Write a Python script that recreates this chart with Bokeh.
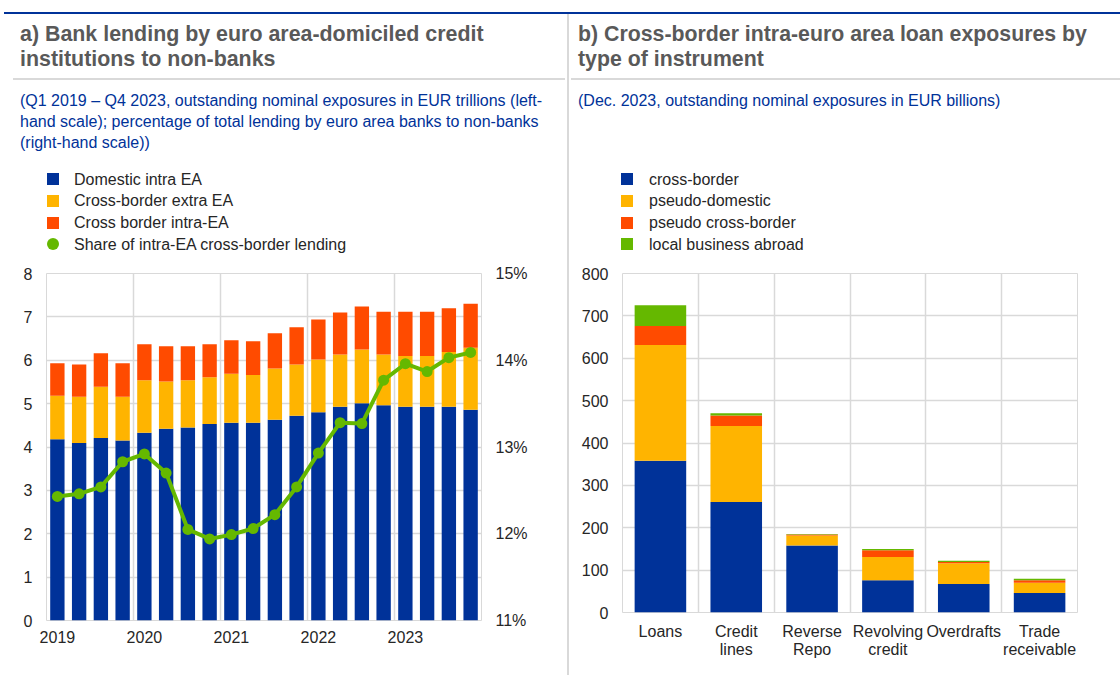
from bokeh.plotting import figure
from bokeh.models import (ColumnDataSource, Range1d, LinearAxis, FixedTicker, Div,
                          PrintfTickFormatter)
from bokeh.layouts import row, column
from bokeh.embed import file_html
from bokeh.resources import INLINE

FONT = "Liberation Sans"
BLUE = "#003299"; YELLOW = "#FFB400"; ORANGE = "#FF4B00"; GREEN = "#65B800"
GRID = "#d9d9d9"; TXT = "#262626"; TITLE = "#595959"

# ---------------- texts ----------------
title_a = ["a) Bank lending by euro area-domiciled credit", "institutions to non-banks"]
sub_a = ["(Q1 2019 \u2013 Q4 2023, outstanding nominal exposures in EUR trillions (left-",
         "hand scale); percentage of total lending by euro area banks to non-banks",
         "(right-hand scale))"]
title_b = ["b) Cross-border intra-euro area loan exposures by", "type of instrument"]
sub_b = ["(Dec. 2023, outstanding nominal exposures in EUR billions)"]
legend_a = ["Domestic intra EA", "Cross-border extra EA", "Cross border intra-EA",
            "Share of intra-EA cross-border lending"]
legend_b = ["cross-border", "pseudo-domestic", "pseudo cross-border", "local business abroad"]

# ---------------- data: panel a ----------------
quarters = ["Q1 2019", "Q2 2019", "Q3 2019", "Q4 2019",
            "Q1 2020", "Q2 2020", "Q3 2020", "Q4 2020",
            "Q1 2021", "Q2 2021", "Q3 2021", "Q4 2021",
            "Q1 2022", "Q2 2022", "Q3 2022", "Q4 2022",
            "Q1 2023", "Q2 2023", "Q3 2023", "Q4 2023"]
year_labels = ["2019", "2020", "2021", "2022", "2023"]
domestic_intra = [4.18, 4.09, 4.21, 4.15, 4.33, 4.42, 4.45, 4.53, 4.56, 4.56,
                  4.63, 4.72, 4.80, 4.93, 5.01, 4.96, 4.93, 4.93, 4.93, 4.86]
cross_extra = [1.00, 1.07, 1.18, 1.01, 1.21, 1.09, 1.09, 1.08, 1.13, 1.10,
               1.18, 1.18, 1.22, 1.20, 1.24, 1.17, 1.17, 1.17, 1.26, 1.43]
cross_intra = [0.75, 0.74, 0.77, 0.77, 0.83, 0.81, 0.78, 0.76, 0.77, 0.78,
               0.81, 0.86, 0.92, 0.97, 0.99, 0.99, 1.02, 1.02, 1.01, 1.01]
share_intra = [12.43, 12.46, 12.54, 12.83, 12.92, 12.70, 12.05, 11.94, 11.99, 12.06,
               12.22, 12.54, 12.93, 13.28, 13.27, 13.77, 13.96, 13.87, 14.03, 14.09]

# ---------------- data: panel b ----------------
instruments = ["Loans", "Credit\nlines", "Reverse\nRepo", "Revolving\ncredit",
               "Overdrafts", "Trade\nreceivable"]
cross_border = [358, 261, 158, 76, 67, 46]
pseudo_domestic = [273, 179, 24, 55, 49, 24]
pseudo_cross = [45, 25, 2, 16, 3, 6]
local_abroad = [49, 5, 1, 3, 3, 3.5]

# ---------------- header (HTML: titles, notes, legends) ----------------
HEAD_H = 262
ROWS = [179, 200.5, 222.5, 244]


def legend_html(x_mark, x_text, labels, colors, shapes):
    out = []
    for yc, lab, col, shp in zip(ROWS, labels, colors, shapes):
        rad = "border-radius:50%;" if shp == "circle" else ""
        out.append(f'<div style="position:absolute;left:{x_mark}px;top:{yc - 6}px;width:12px;'
                   f'height:12px;background:{col};{rad}"></div>')
        out.append(f'<div style="position:absolute;left:{x_text}px;top:{yc - 10.5}px;'
                   f'font-size:16px;line-height:21px;color:{TXT};">{lab}</div>')
    return "\n".join(out)


hdr = f"""
<div style="position:relative;width:1120px;height:{HEAD_H}px;overflow:hidden;
 font-family:'Liberation Sans',Arial,sans-serif;white-space:nowrap;">
 <div style="position:absolute;left:4px;top:12px;width:1116px;height:2px;background:{BLUE};"></div>
 <div style="position:absolute;left:567px;top:14px;width:2px;height:{HEAD_H - 14}px;background:{GRID};"></div>
 <div style="position:absolute;left:13px;top:78px;width:552px;height:2px;background:{GRID};"></div>
 <div style="position:absolute;left:571px;top:78px;width:549px;height:2px;background:{GRID};"></div>
 <div style="position:absolute;left:20px;top:22px;font-size:21.4px;line-height:25px;font-weight:bold;color:{TITLE};">{'<br>'.join(title_a)}</div>
 <div style="position:absolute;left:20px;top:90px;font-size:16px;line-height:21px;color:{BLUE};">{'<br>'.join(sub_a)}</div>
 <div style="position:absolute;left:578px;top:22px;font-size:21.3px;line-height:25px;font-weight:bold;color:{TITLE};">{'<br>'.join(title_b)}</div>
 <div style="position:absolute;left:578px;top:90px;font-size:16px;line-height:21px;color:{BLUE};">{'<br>'.join(sub_b)}</div>
 {legend_html(47, 74, legend_a, [BLUE, YELLOW, ORANGE, GREEN], ["sq", "sq", "sq", "circle"])}
 {legend_html(621, 649, legend_b, [BLUE, YELLOW, ORANGE, GREEN], ["sq"] * 4)}
</div>
"""
header = Div(text=hdr, width=1120, height=HEAD_H, margin=0)

TOP = 273 - HEAD_H

# ================= panel a =================
H1 = TOP + 347 + 55   # frame 273..620 on the page
xa = list(range(len(quarters)))
src_a = ColumnDataSource(dict(x=xa, q=quarters, dom=domestic_intra, extra=cross_extra,
                              intra=cross_intra, share=share_intra))

p1 = figure(width=567, height=H1, x_range=Range1d(-0.5, len(quarters) - 0.5),
            y_range=Range1d(0, 8), output_backend="svg", toolbar_location=None, title=None,
            min_border_left=46, min_border_right=86, min_border_top=TOP,
            min_border_bottom=55, outline_line_color=GRID, margin=0)
p1.extra_y_ranges = {"pct": Range1d(11, 15)}

p1.vbar_stack(["dom", "extra", "intra"], x="x", width=0.66,
              color=[BLUE, YELLOW, ORANGE], line_color=None, source=src_a)
p1.line("x", "share", source=src_a, y_range_name="pct", line_color=GREEN, line_width=4)
p1.scatter("x", "share", source=src_a, y_range_name="pct", size=11,
           fill_color=GREEN, line_color=None)

p1.yaxis.ticker = FixedTicker(ticks=list(range(0, 9)))
p1.xaxis.ticker = FixedTicker(ticks=[0, 4, 8, 12, 16])
p1.xaxis.major_label_overrides = {i * 4: y for i, y in enumerate(year_labels)}
p1.xgrid.ticker = FixedTicker(ticks=[3.5, 7.5, 11.5, 15.5])

ax_r = LinearAxis(y_range_name="pct", ticker=FixedTicker(ticks=[11, 12, 13, 14, 15]),
                  formatter=PrintfTickFormatter(format="%d%%"))
p1.add_layout(ax_r, "right")

# ================= panel b =================
H2 = TOP + 339 + 55   # frame 273..612 on the page
xb = list(range(len(instruments)))
src_b = ColumnDataSource(dict(x=xb, cb=cross_border, pd=pseudo_domestic,
                              pc=pseudo_cross, la=local_abroad))
p2 = figure(width=551, height=H2, x_range=Range1d(-0.5, len(instruments) - 0.5),
            y_range=Range1d(0, 800), output_backend="svg", toolbar_location=None, title=None,
            min_border_left=53, min_border_right=43, min_border_top=TOP,
            min_border_bottom=55, outline_line_color=GRID, margin=0)
p2.vbar_stack(["cb", "pd", "pc", "la"], x="x", width=0.68,
              color=[BLUE, YELLOW, ORANGE, GREEN], line_color=None, source=src_b)
p2.yaxis.ticker = FixedTicker(ticks=list(range(0, 801, 100)))
p2.xaxis.ticker = FixedTicker(ticks=xb)
p2.xaxis.major_label_overrides = {i: n for i, n in enumerate(instruments)}
p2.xgrid.ticker = FixedTicker(ticks=[0.5, 1.5, 2.5, 3.5, 4.5])

for p in (p1, p2):
    for ax in p.axis:
        ax.axis_line_color = None
        ax.major_tick_line_color = None
        ax.minor_tick_line_color = None
        ax.major_tick_out = 0
        ax.major_tick_in = 0
        ax.major_label_text_font = FONT
        ax.major_label_text_font_size = "16px"
        ax.major_label_text_color = TXT
    p.grid.grid_line_color = GRID
    p.grid.grid_line_width = 1.5
    p.background_fill_color = "white"
    p.border_fill_color = "white"

for ax in p1.yaxis:
    ax.major_label_standoff = 14
p1.xaxis.major_label_standoff = 10
p2.yaxis.major_label_standoff = 14
p2.xaxis.major_label_standoff = 10
p2.xaxis.major_label_text_line_height = 1.1

sep = Div(text="", width=2, height=H1, margin=0, styles={"background-color": GRID})

layout = column(header, row(p1, sep, p2, spacing=0), spacing=0)
open("out.html", "w").write(file_html(layout, INLINE))
